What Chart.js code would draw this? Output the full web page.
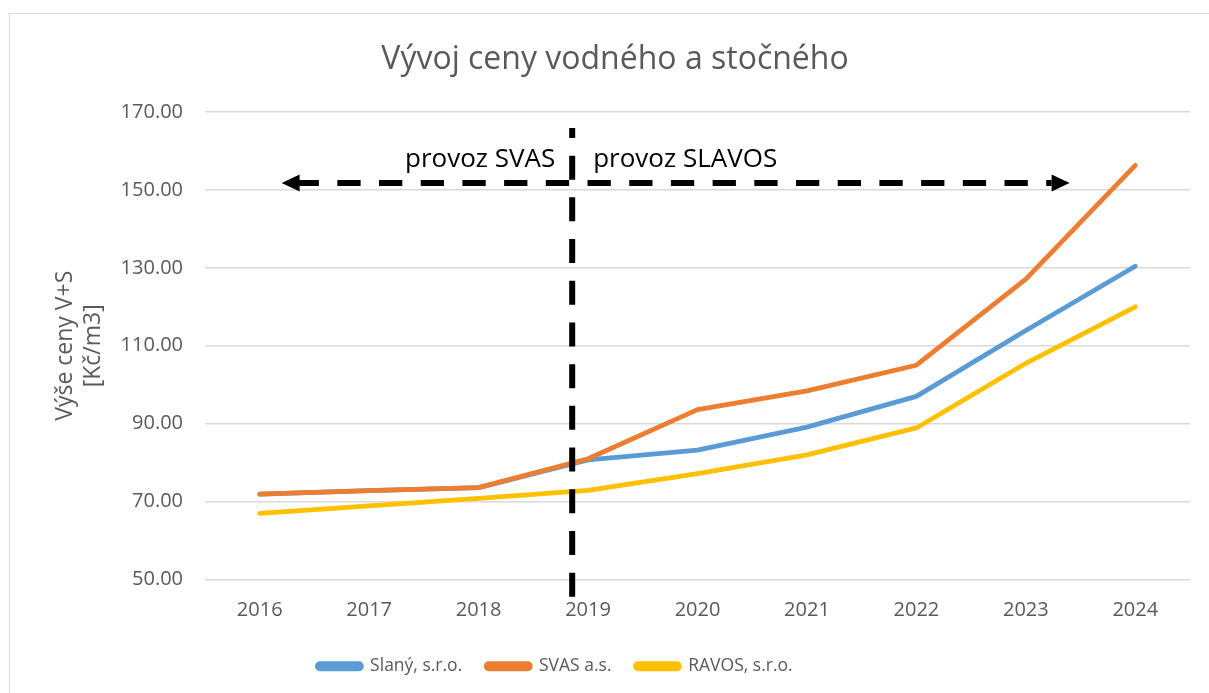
<!DOCTYPE html>
<html lang="cs">
<head>
    <meta charset="UTF-8">
    <title>Vývoj ceny vodného a stočného</title>
    <script src="https://cdn.jsdelivr.net/npm/chart.js@4.4.1/dist/chart.umd.min.js"></script>
    <style>
        html, body {
            margin: 0;
            padding: 0;
            background: #ffffff;
            overflow: hidden;
        }
        #frame {
            position: absolute;
            left: 9px;
            top: 13px;
            width: 1400px;
            height: 900px;
            border: 1px solid #d9d9d9;
        }
        #wrap {
            position: absolute;
            left: 0;
            top: 0;
            width: 1209px;
            height: 693px;
        }
    </style>
</head>
<body>
    <div id="frame"></div>
    <div id="wrap"><canvas id="chart"></canvas></div>

    <script>
        // data
        var years = ['2016', '2017', '2018', '2019', '2020', '2021', '2022', '2023', '2024'];
        var slany = [71.9, 72.8, 73.6, 80.7, 83.2, 89.1, 97.0, 113.9, 130.4];
        var svas = [71.9, 72.8, 73.6, 81.0, 93.6, 98.4, 105.0, 127.1, 156.3];
        var ravos = [67.0, 68.9, 70.8, 72.9, 77.2, 82.0, 88.9, 105.5, 120.0];
        var seriesNames = ['Slaný, s.r.o.', 'SVAS a.s.', 'RAVOS, s.r.o.'];
        var yTicks = { min: 50, max: 170, step: 20 };

        // annotation positions (x in category index, y in Kč/m3)
        var switchX = 2.855;
        var switchTop = 165.9;
        var switchBottom = 44.3;
        var arrowY = 151.8;
        var arrowFrom = 0.2;
        var arrowTo = 7.4;
        var labelY = 155.9;
        var labelLeft = { text: 'provoz SVAS', x: 2.70 };
        var labelRight = { text: 'provoz SLAVOS', x: 3.047 };

        var grey = '#595959';
        var font = "'Open Sans', sans-serif";

        var annotations = {
            id: 'annotations',
            afterLayout: function(chart) {
                // legend sits a bit left of centre in the original
                var lg = chart.legend;
                lg.right = lg.left + 2 * (555 - lg.left);
            },
            afterDatasetsDraw: function(chart) {
                var ctx = chart.ctx;
                var xs = chart.scales.x;
                var ys = chart.scales.y;
                ctx.save();
                ctx.strokeStyle = '#000';
                ctx.fillStyle = '#000';
                ctx.lineWidth = 6;
                ctx.lineCap = 'butt';

                // vertical divider
                var vx = xs.getPixelForValue(switchX);
                ctx.setLineDash([24, 17.7]);
                ctx.lineDashOffset = 14;
                ctx.beginPath();
                ctx.moveTo(vx, ys.getPixelForValue(switchTop));
                ctx.lineTo(vx, ys.getPixelForValue(switchBottom));
                ctx.stroke();

                // double arrow
                var ay = ys.getPixelForValue(arrowY);
                var x0 = xs.getPixelForValue(arrowFrom);
                var x1 = xs.getPixelForValue(arrowTo);
                var head = 18;
                ctx.setLineDash([23.3, 18.4]);
                ctx.lineDashOffset = 0;
                ctx.beginPath();
                ctx.moveTo(x0 + 14, ay);
                ctx.lineTo(x1 - head, ay);
                ctx.stroke();
                ctx.setLineDash([]);
                ctx.beginPath();
                ctx.moveTo(x0, ay);
                ctx.lineTo(x0 + head, ay - 8.5);
                ctx.lineTo(x0 + head, ay + 8.5);
                ctx.closePath();
                ctx.fill();
                ctx.beginPath();
                ctx.moveTo(x1, ay);
                ctx.lineTo(x1 - head, ay - 8.5);
                ctx.lineTo(x1 - head, ay + 8.5);
                ctx.closePath();
                ctx.fill();

                // labels
                ctx.font = '26px ' + font;
                ctx.textBaseline = 'alphabetic';
                ctx.textAlign = 'right';
                ctx.fillText(labelLeft.text, xs.getPixelForValue(labelLeft.x), ys.getPixelForValue(labelY));
                ctx.textAlign = 'left';
                ctx.fillText(labelRight.text, xs.getPixelForValue(labelRight.x), ys.getPixelForValue(labelY));
                ctx.restore();
            }
        };

        function line(label, data, color, order) {
            return {
                label: label,
                data: data,
                borderColor: color,
                backgroundColor: color,
                borderWidth: 4.8,
                borderCapStyle: 'round',
                borderJoinStyle: 'round',
                pointRadius: 0,
                tension: 0,
                order: order
            };
        }

        var ctx = document.getElementById('chart').getContext('2d');
        var chart = new Chart(ctx, {
            type: 'line',
            data: {
                labels: years,
                datasets: [
                    line(seriesNames[0], slany, '#5b9bd5', 3),
                    line(seriesNames[1], svas, '#ed7d31', 1),
                    line(seriesNames[2], ravos, '#ffc000', 2)
                ]
            },
            plugins: [annotations],
            options: {
                responsive: true,
                maintainAspectRatio: false,
                animation: false,
                layout: {
                    padding: { left: 40, right: 19, top: 0, bottom: 8 }
                },
                plugins: {
                    title: {
                        display: true,
                        text: 'Vývoj ceny vodného a stočného',
                        color: grey,
                        font: { family: font, size: 32, weight: 'normal' },
                        padding: { top: 41, bottom: 32.6 }
                    },
                    legend: {
                        position: 'bottom',
                        labels: {
                            color: grey,
                            font: { family: font, size: 17.5 },
                            boxWidth: 44,
                            boxHeight: 5,
                            padding: 24,
                            useBorderRadius: true,
                            borderRadius: 2.5,
                            sort: function(a, b) { return a.datasetIndex - b.datasetIndex; }
                        }
                    },
                    tooltip: { enabled: false }
                },
                scales: {
                    x: {
                        offset: true,
                        afterFit: function(s) { s.height -= 8; },
                        grid: { display: false, drawTicks: false },
                        border: { display: false },
                        ticks: {
                            color: grey,
                            font: { family: font, size: 20 },
                            padding: 19,
                            maxRotation: 0
                        }
                    },
                    y: {
                        min: yTicks.min,
                        max: yTicks.max,
                        afterFit: function(s) { s.width = 165; },
                        grid: { color: '#d9d9d9', lineWidth: 1.5, drawTicks: false },
                        border: { display: false },
                        ticks: {
                            stepSize: yTicks.step,
                            color: grey,
                            font: { family: font, size: 20 },
                            padding: 22,
                            callback: function(v) { return v.toFixed(2); }
                        },
                        title: {
                            display: true,
                            text: ['Výše ceny V+S', '[Kč/m3]'],
                            color: grey,
                            font: { family: font, size: 23 },
                            padding: { top: 12, bottom: 0 }
                        }
                    }
                }
            }
        });
    </script>
</body>
</html>
